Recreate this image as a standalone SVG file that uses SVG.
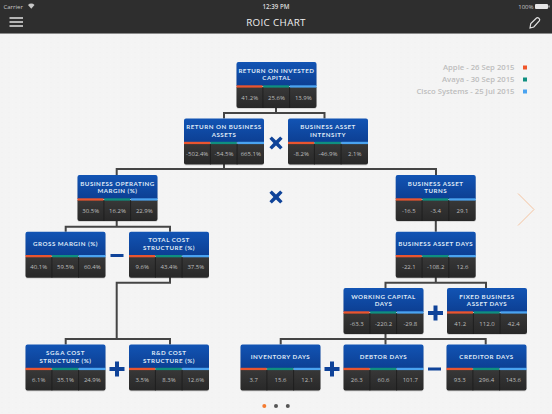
<svg xmlns="http://www.w3.org/2000/svg" width="552" height="414" viewBox="0 0 552 414">
<style>
text{font-family:"Open Sans","Liberation Sans",sans-serif}
.t{font-family:Lato,"Liberation Sans",sans-serif;font-size:6.200px;font-weight:700;fill:#dfe8f6;text-anchor:middle;letter-spacing:.5px}
.v{font-size:6px;fill:#bfbfbf;text-anchor:middle}
.lg{font-size:7.700px;font-weight:600;fill:#bdbdbd;text-anchor:end}
.c{fill:none;stroke:#454545;stroke-width:2}
.op{fill:#0f4399}
</style>
<defs>
<linearGradient id="b" x1="0" y1="0" x2="0" y2="1"><stop offset="0" stop-color="#1254b4"/><stop offset="1" stop-color="#0c3d90"/></linearGradient>
<linearGradient id="d" x1="0" y1="0" x2="0" y2="1"><stop offset="0" stop-color="#383838"/><stop offset="1" stop-color="#282828"/></linearGradient>
<pattern id="paper" width="7" height="5" patternUnits="userSpaceOnUse"><rect width="7" height="5" fill="#f4f4f4"/><rect x="1" y="2" width="2" height="1" fill="#f2f2f2"/><rect x="5" y="4" width="1" height="1" fill="#f6f6f6"/></pattern>
<g id="card">
<rect x="0" y="1" width="80" height="46" rx="2" fill="#000" opacity=".12"/>
<path d="M0 26V2a2 2 0 0 1 2-2H78a2 2 0 0 1 2 2V24H0Z" fill="url(#b)"/>
<path d="M0 25H80V44a2 2 0 0 1-2 2H2a2 2 0 0 1-2-2Z" fill="url(#d)"/>
<rect x="0" y="23.300" width="26" height="2.300" fill="#e9552f"/>
<rect x="26.700" y="23.300" width="26" height="2.300" fill="#0f8f80"/>
<rect x="53.400" y="23.300" width="26.600" height="2.300" fill="#4aa3f0"/>
<path d="M26.400 25.600V46M53.100 25.600V46" stroke="#1c1c1c" stroke-width=".8"/>
</g>
<path id="plus" d="M-2 -7.500H2V-2H7.500V2H2V7.500H-2V2H-7.500V-2H-2Z"/>
<path id="minus" d="M-6.500 -1.500H6.500V1.500H-6.500Z"/>
<path id="times" d="M-6.600 -4.200L-4.200 -6.600L0 -2.600L4.200 -6.600L6.600 -4.200L2.600 0L6.600 4.200L4.200 6.600L0 2.600L-4.200 6.600L-6.600 4.200L-2.600 0Z"/>
</defs>
<rect width="552" height="414" fill="url(#paper)"/>
<g id="header">
<rect width="552" height="33" fill="#2e2e2e"/>
<rect y="33" width="552" height="1" fill="#8a8a8a"/>
<text x="3.500" y="8.800" style="font-size:6px;fill:#c8c8c8">Carrier</text>
<path d="M28 5a4.500 4.500 0 0 1 6.500 0L31.250 8.800Z" fill="#c8c8c8"/>
<text x="276" y="8.800" style="font-size:6.200px;font-weight:600;fill:#dcdcdc;text-anchor:middle">12:39 PM</text>
<text x="533.500" y="8.800" style="font-size:6px;fill:#c8c8c8;text-anchor:end">100%</text>
<rect x="535" y="4" width="13" height="5" rx="1" fill="#e6e6e6"/><rect x="548.500" y="5.500" width="1" height="2" fill="#e6e6e6"/>
<text x="276" y="26.300" style="font-size:9.800px;fill:#f0f0f0;text-anchor:middle;letter-spacing:.35px">ROIC CHART</text>
<path d="M9.500 18H23M9.500 22H23M9.500 26H23" stroke="#e2e2e2" stroke-width="1.300"/>
<path d="M530 28L530.800 23.500L536.500 18C537.800 17 540.500 19 539.500 20.700L533.800 27Z" fill="none" stroke="#e2e2e2" stroke-width="1.200"/>
</g>
<g id="legend">
<text class="lg" x="514.500" y="70">Apple - 26 Sep 2015</text>
<text class="lg" x="514.500" y="82">Avaya - 30 Sep 2015</text>
<text class="lg" x="514.500" y="94">Cisco Systems - 25 Jul 2015</text>
<rect x="523" y="65.500" width="4" height="4" fill="#f0562a"/>
<rect x="523" y="77.500" width="4" height="4" fill="#0f8f80"/>
<rect x="523" y="89.500" width="4" height="4" fill="#4aa3f0"/>
</g>
<g id="connectors" class="c">
<path d="M276 108V113H224V118.500M276 113H324.500V118.500"/>
<path d="M224 164V169M116.700 175V169H436V175"/>
<path d="M116.700 220.700V226.700M65.700 231.700V226.700H170V231.700"/>
<path d="M170 277V282.700H116.700V339M65.700 344.500V339H170V344.500"/>
<path d="M435.800 220.700V231.700M435.800 277V282.700M385.500 288V282.700H486V288"/>
<path d="M385.500 334V339M280.700 344.500V339H485.700V344.500M385.500 339V344.500"/>
</g>
<g id="n1"><use href="#card" x="236.500" y="62"/><text class="t" x="276.500" y="72.600">RETURN ON INVESTED</text><text class="t" x="276.500" y="80.100">CAPITAL</text><text class="v" x="249.700" y="99.500">41.2%</text><text class="v" x="276.500" y="99.500">25.6%</text><text class="v" x="303.300" y="99.500">13.9%</text></g>
<g id="n2"><use href="#card" x="184" y="118.500"/><text class="t" x="224" y="129.100">RETURN ON BUSINESS</text><text class="t" x="224" y="136.600">ASSETS</text><text class="v" x="197.200" y="156">-502.4%</text><text class="v" x="224" y="156">-54.5%</text><text class="v" x="250.800" y="156">665.1%</text></g>
<g id="n3"><use href="#card" x="288" y="118.500"/><text class="t" x="328" y="129.100">BUSINESS ASSET</text><text class="t" x="328" y="136.600">INTENSITY</text><text class="v" x="301.200" y="156">-8.2%</text><text class="v" x="328" y="156">-46.9%</text><text class="v" x="354.800" y="156">2.1%</text></g>
<g id="n4"><use href="#card" x="77.500" y="175"/><text class="t" x="117.500" y="185.600">BUSINESS OPERATING</text><text class="t" x="117.500" y="193.100">MARGIN (%)</text><text class="v" x="90.700" y="212.500">30.5%</text><text class="v" x="117.500" y="212.500">16.2%</text><text class="v" x="144.300" y="212.500">22.9%</text></g>
<g id="n5"><use href="#card" x="395.700" y="175"/><text class="t" x="435.700" y="185.600">BUSINESS ASSET</text><text class="t" x="435.700" y="193.100">TURNS</text><text class="v" x="408.900" y="212.500">-16.5</text><text class="v" x="435.700" y="212.500">-3.4</text><text class="v" x="462.500" y="212.500">29.1</text></g>
<g id="n6"><use href="#card" x="25.500" y="231.700"/><text class="t" x="65.500" y="245.700">GROSS MARGIN (%)</text><text class="v" x="38.700" y="269">40.1%</text><text class="v" x="65.500" y="269">59.5%</text><text class="v" x="92.300" y="269">60.4%</text></g>
<g id="n7"><use href="#card" x="129" y="231.700"/><text class="t" x="169" y="242.300">TOTAL COST</text><text class="t" x="169" y="249.800">STRUCTURE (%)</text><text class="v" x="142.200" y="269">9.6%</text><text class="v" x="169" y="269">43.4%</text><text class="v" x="195.800" y="269">37.5%</text></g>
<g id="n8"><use href="#card" x="395.700" y="231.700"/><text class="t" x="435.700" y="245.700">BUSINESS ASSET DAYS</text><text class="v" x="408.900" y="269">-22.1</text><text class="v" x="435.700" y="269">-108.2</text><text class="v" x="462.500" y="269">12.6</text></g>
<g id="n9"><use href="#card" x="343.500" y="288"/><text class="t" x="383.500" y="298.600">WORKING CAPITAL</text><text class="t" x="383.500" y="306.100">DAYS</text><text class="v" x="356.700" y="325.500">-63.3</text><text class="v" x="383.500" y="325.500">-220.2</text><text class="v" x="410.300" y="325.500">-29.8</text></g>
<g id="n10"><use href="#card" x="447" y="288"/><text class="t" x="487" y="298.600">FIXED BUSINESS</text><text class="t" x="487" y="306.100">ASSET DAYS</text><text class="v" x="460.200" y="325.500">41.2</text><text class="v" x="487" y="325.500">112.0</text><text class="v" x="513.800" y="325.500">42.4</text></g>
<g id="n11"><use href="#card" x="25.500" y="344.500"/><text class="t" x="65.500" y="355.100">SG&amp;A COST</text><text class="t" x="65.500" y="362.600">STRUCTURE (%)</text><text class="v" x="38.700" y="382">6.1%</text><text class="v" x="65.500" y="382">35.1%</text><text class="v" x="92.300" y="382">24.9%</text></g>
<g id="n12"><use href="#card" x="129" y="344.500"/><text class="t" x="169" y="355.100">R&amp;D COST</text><text class="t" x="169" y="362.600">STRUCTURE (%)</text><text class="v" x="142.200" y="382">3.5%</text><text class="v" x="169" y="382">8.3%</text><text class="v" x="195.800" y="382">12.6%</text></g>
<g id="n13"><use href="#card" x="240.500" y="344.500"/><text class="t" x="280.500" y="358.500">INVENTORY DAYS</text><text class="v" x="253.700" y="382">3.7</text><text class="v" x="280.500" y="382">15.6</text><text class="v" x="307.300" y="382">12.1</text></g>
<g id="n14"><use href="#card" x="343.500" y="344.500"/><text class="t" x="383.500" y="358.500">DEBTOR DAYS</text><text class="v" x="356.700" y="382">26.3</text><text class="v" x="383.500" y="382">60.6</text><text class="v" x="410.300" y="382">101.7</text></g>
<g id="n15"><use href="#card" x="446.500" y="344.500"/><text class="t" x="486.500" y="358.500">CREDITOR DAYS</text><text class="v" x="459.700" y="382">93.3</text><text class="v" x="486.500" y="382">296.4</text><text class="v" x="513.300" y="382">143.6</text></g>
<g id="operators" class="op">
<use href="#times" x="276" y="143"/>
<use href="#times" x="276" y="197"/>
<use href="#minus" x="117" y="255.500"/>
<use href="#plus" x="435.500" y="313"/>
<use href="#plus" x="117" y="369"/>
<use href="#plus" x="332" y="369"/>
<use href="#minus" x="434.500" y="369"/>
</g>
<path id="next" d="M518 193.500L534 209.500L518 225.500" fill="none" stroke="#f5c4a0" stroke-width="1"/>
<g id="pager"><circle cx="264.300" cy="406" r="2" fill="#f47b30"/><circle cx="276" cy="406" r="2" fill="#555"/><circle cx="287.800" cy="406" r="2" fill="#555"/></g>
</svg>
